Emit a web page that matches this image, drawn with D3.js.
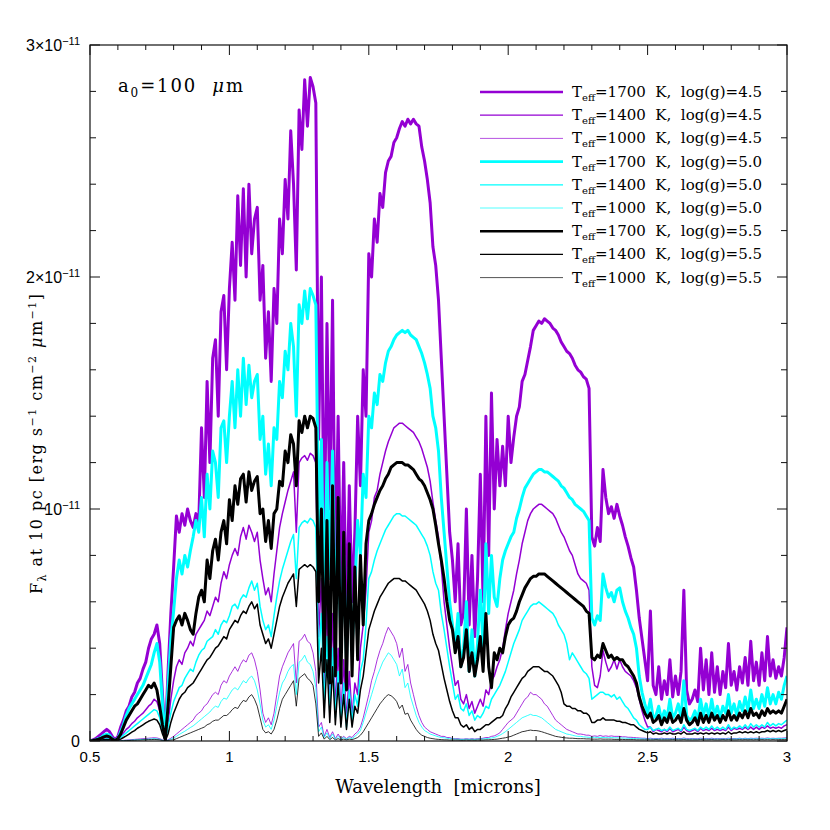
<!DOCTYPE html>
<html>
<head>
<meta charset="utf-8">
<script src="https://cdn.jsdelivr.net/npm/d3@7"></script>
<style>
  body { margin: 0; background: #fff; }
  svg { display: block; }
  text { fill: #000; white-space: pre; }
</style>
</head>
<body>
<svg width="830" height="830"></svg>
<script>
'use strict';

// wavelength grid 0.50 .. 3.00 micron in 0.01 steps
// fluxes in units of 1e-12 erg s-1 cm-2 um-1
const lamStart = 0.5, lamStep = 0.01;

const f1700_45 = [
0.0,0.05,0.1,0.2,0.3,0.4,0.5,0.4,0.2,0.05,
0.2,0.6,0.9,1.3,1.5,1.9,2.1,2.5,2.7,3.1,
3.4,4.0,4.4,4.6,5.0,4.2,2.0,0.1,3.0,5.5,
7.5,9.7,9.0,9.8,9.3,10.0,9.5,9.2,9.8,9.4,
13.5,10.5,15.5,12.0,16.5,17.3,14.0,18.5,19.2,16.0,
19.5,21.5,19.0,23.5,20.5,23.8,20.0,24.0,21.0,22.5,
23.0,19.0,20.5,16.5,18.5,15.5,19.5,18.0,22.5,21.0,
24.2,22.5,26.3,24.0,20.3,27.2,25.5,28.5,26.5,28.6,
28.2,27.5,13.0,20.0,8.0,18.0,10.0,19.0,7.0,14.0,
6.0,12.0,5.0,11.0,6.0,9.0,14.0,11.0,16.0,14.0,
21.0,20.0,22.5,21.5,23.6,23.0,24.5,25.0,25.2,25.8,
26.0,26.4,26.7,26.5,26.8,26.6,26.8,26.6,26.5,25.6,
25.0,24.2,23.2,21.3,20.5,19.0,16.5,14.0,11.5,9.0,
7.8,6.0,8.5,5.0,5.5,10.0,5.0,8.0,4.5,7.0,
11.5,6.0,14.0,8.0,15.0,10.0,13.0,11.0,12.7,11.0,
14.0,12.0,13.1,14.0,14.4,15.5,15.8,16.4,17.0,17.7,
17.9,18.1,18.0,18.2,18.1,18.0,17.8,17.7,17.5,17.2,
17.0,16.8,16.7,16.5,16.2,16.0,15.9,15.7,15.6,15.2,
8.8,8.4,9.2,8.6,11.7,10.5,9.8,10.1,9.6,10.2,
9.7,9.3,8.8,8.4,7.9,7.5,6.5,5.3,4.4,3.5,
2.6,5.6,2.4,2.0,3.2,1.8,2.6,2.0,3.5,1.9,
2.8,2.0,3.0,6.5,2.2,1.6,1.8,2.2,1.7,4.0,
2.2,3.5,2.0,3.8,2.1,3.2,2.0,3.0,2.3,4.2,
2.4,3.0,2.2,3.2,2.5,3.6,2.4,4.3,2.6,3.4,
2.4,3.8,2.6,4.5,2.8,3.5,2.7,3.2,2.8,3.6,
4.9];

const f1400_45 = [
0,0.02,0.04,0.06,0.1,0.12,0.15,0.12,0.06,0.01,
0.08,0.2,0.35,0.5,0.6,0.75,0.85,1.0,1.1,1.2,
1.35,1.5,1.6,1.8,1.7,1.3,0.5,0.02,0.8,1.8,
2.6,3.2,3.5,3.3,3.8,4.0,4.3,4.1,4.6,4.8,
5.0,5.2,5.6,5.4,5.8,6.2,6.0,6.8,7.3,7.0,
7.6,8.0,8.3,8.0,8.8,9.2,8.7,9.3,9.0,8.6,
9.0,7.8,7.0,6.3,6.6,6.0,7.2,8.2,9.2,9.8,
10.3,10.8,11.2,11.6,9.0,12.0,12.2,12.3,12.1,12.4,
12.3,12.0,4.5,7.0,2.0,6.0,1.5,5.5,1.3,4.0,
1.0,3.5,0.8,3.0,1.0,2.5,2.0,4.0,5.0,6.5,
9.0,9.5,10.5,10.8,11.5,12.0,12.5,12.9,13.2,13.5,
13.6,13.7,13.7,13.6,13.5,13.4,13.3,13.1,12.9,12.6,
12.2,11.8,11.2,10.3,9.5,8.8,7.5,6.0,5.0,4.0,
3.2,2.4,2.6,1.8,1.6,2.0,1.4,1.7,1.2,1.5,
1.8,1.5,2.2,2.0,2.6,2.8,3.2,3.5,4.0,4.8,
5.5,6.0,6.5,7.2,7.8,8.5,9.0,9.5,9.8,10.0,
10.1,10.2,10.2,10.1,10.0,9.9,9.8,9.6,9.3,9.0,
8.8,8.5,8.2,8.0,7.6,7.2,7.0,6.9,6.8,6.5,
3.2,2.4,2.3,2.8,3.9,3.4,3.0,3.2,3.5,3.1,
3.5,3.2,3.0,2.9,2.8,2.6,2.3,1.8,1.3,0.9,
0.6,0.6,0.4,0.5,0.45,0.4,0.5,0.4,0.55,0.4,
0.45,0.5,0.4,0.6,0.45,0.4,0.45,0.5,0.4,0.55,
0.45,0.5,0.45,0.55,0.45,0.5,0.45,0.5,0.45,0.6,
0.45,0.55,0.5,0.55,0.5,0.6,0.5,0.6,0.5,0.6,
0.5,0.6,0.55,0.65,0.55,0.6,0.55,0.6,0.55,0.65,
0.7];

const f1000_45 = [
0,0,0,0.01,0.01,0.02,0.02,0.02,0.01,0,
0.01,0.02,0.03,0.04,0.05,0.06,0.07,0.08,0.09,0.1,
0.11,0.12,0.13,0.14,0.13,0.1,0.05,0,0.05,0.12,
0.2,0.3,0.4,0.5,0.6,0.7,0.8,0.9,1.1,1.2,
1.3,1.5,1.6,1.8,2.0,2.1,2.0,2.4,2.6,2.5,
2.8,3.0,3.2,3.0,3.3,3.5,3.4,3.7,3.8,3.5,
3.0,2.2,1.2,0.8,1.0,0.7,1.2,2.0,2.8,3.2,
3.5,3.8,4.0,4.2,2.5,4.3,4.4,4.6,4.3,4.2,
3.8,3.0,0.6,0.8,0.2,0.5,0.15,0.4,0.1,0.3,
0.1,0.2,0.1,0.2,0.15,0.3,0.4,0.6,1.0,1.5,
2.0,2.6,3.0,3.5,3.9,4.2,4.6,4.9,4.7,4.5,
4.2,3.6,4.0,3.0,3.3,2.5,2.0,1.5,1.1,0.8,
0.6,0.5,0.4,0.35,0.3,0.25,0.2,0.2,0.15,0.15,
0.1,0.1,0.1,0.08,0.08,0.1,0.08,0.1,0.08,0.1,
0.1,0.12,0.15,0.15,0.2,0.22,0.28,0.35,0.5,0.65,
0.8,0.9,1.0,1.2,1.4,1.6,1.8,1.9,2.1,2.0,
2.0,1.9,1.8,1.6,1.5,1.3,1.1,0.9,0.8,0.7,
0.6,0.5,0.45,0.4,0.35,0.3,0.3,0.28,0.25,0.25,
0.2,0.22,0.2,0.24,0.2,0.22,0.2,0.22,0.2,0.2,
0.2,0.18,0.18,0.16,0.16,0.15,0.14,0.13,0.12,0.12,
0.1,0.12,0.1,0.11,0.1,0.12,0.1,0.11,0.1,0.12,
0.1,0.11,0.1,0.13,0.1,0.1,0.11,0.1,0.1,0.12,
0.1,0.11,0.1,0.12,0.1,0.11,0.1,0.11,0.1,0.12,
0.1,0.11,0.1,0.12,0.1,0.12,0.1,0.12,0.11,0.12,
0.11,0.12,0.11,0.13,0.11,0.12,0.11,0.12,0.12,0.13,
0.14];

const f1700_50 = [
0.0,0.02,0.05,0.1,0.15,0.25,0.3,0.25,0.1,0.02,
0.1,0.4,0.7,1.1,1.4,1.6,1.8,2.0,2.2,2.4,
2.7,3.0,3.3,3.8,4.2,3.4,1.6,0.1,2.4,4.4,
5.6,7.0,7.8,7.2,8.0,7.5,8.2,8.8,9.5,9.0,
10.5,8.8,11.5,10.0,12.5,12.0,10.5,13.5,13.8,12.0,
14.0,15.5,13.5,16.0,14.0,16.5,14.5,16.2,14.8,15.5,
15.8,13.0,14.0,11.5,12.8,11.0,13.5,13.0,15.5,14.8,
16.8,16.0,18.0,17.0,14.0,18.8,18.0,19.4,18.2,19.5,
19.2,18.8,9.0,13.0,5.5,12.0,7.0,12.5,5.0,9.5,
4.0,8.0,3.5,7.5,4.0,6.5,9.5,8.0,11.5,10.5,
14.0,13.5,15.0,14.5,15.8,15.5,16.3,16.8,17.0,17.3,
17.5,17.6,17.7,17.6,17.7,17.5,17.4,17.3,17.0,16.7,
16.3,15.8,15.2,14.0,13.5,12.5,10.5,9.0,7.5,6.0,
5.0,4.0,5.5,3.2,4.0,6.0,3.0,4.8,2.8,4.2,
6.5,4.0,8.5,5.5,8.0,6.2,5.8,7.0,7.8,8.2,
8.5,8.8,9.0,9.6,10.0,10.5,10.9,11.1,11.3,11.5,
11.6,11.7,11.7,11.6,11.6,11.5,11.4,11.3,11.2,11.0,
10.9,10.7,10.5,10.4,10.2,10.1,10.0,9.9,9.7,9.5,
5.3,5.0,5.4,5.2,7.2,6.6,6.2,6.4,6.0,6.5,
6.6,6.0,5.6,5.3,4.9,4.6,4.0,2.8,2.1,1.6,
1.2,1.8,1.0,1.1,1.5,0.9,1.3,1.0,1.8,1.0,
1.2,1.6,1.0,2.6,1.1,0.9,1.0,1.3,0.9,1.8,
1.1,1.6,1.0,1.8,1.1,1.5,1.0,1.5,1.2,2.0,
1.2,1.6,1.1,1.7,1.3,1.9,1.3,2.2,1.4,1.8,
1.4,2.0,1.5,2.3,1.6,2.0,1.6,2.1,1.8,2.4,
2.8];

const f1400_50 = [
0,0.01,0.02,0.04,0.06,0.08,0.1,0.08,0.04,0.01,
0.05,0.15,0.25,0.35,0.45,0.55,0.65,0.75,0.85,0.95,
1.05,1.15,1.25,1.35,1.3,1.0,0.4,0.02,0.6,1.2,
1.7,2.0,2.3,2.4,2.7,2.9,3.1,3.0,3.4,3.7,
3.9,4.0,4.3,4.4,4.5,4.8,4.6,5.0,5.2,5.1,
5.4,5.8,5.9,5.7,6.1,6.3,6.2,6.6,6.9,6.5,
6.8,5.8,5.2,4.8,5.0,4.5,5.4,6.2,6.9,7.4,
7.8,8.2,8.6,8.9,7.0,9.2,9.4,9.5,9.4,9.6,
9.5,9.2,3.5,5.5,1.5,4.5,1.2,4.0,1.0,3.0,
0.8,2.5,0.6,2.2,0.8,2.0,1.5,3.0,3.5,5.0,
7.0,7.3,7.8,8.2,8.5,8.8,9.1,9.3,9.5,9.7,
9.8,9.8,9.7,9.7,9.6,9.5,9.4,9.3,9.1,8.9,
8.7,8.4,8.0,7.3,6.8,6.5,5.5,4.8,4.0,3.2,
2.5,1.8,2.0,1.4,1.3,1.6,1.1,1.3,0.9,1.1,
1.0,1.2,1.5,1.4,1.8,2.0,2.2,2.4,2.7,3.0,
3.4,3.8,4.2,4.5,4.8,5.2,5.4,5.6,5.8,5.9,
5.9,6.0,5.9,5.8,5.7,5.6,5.5,5.3,5.0,4.8,
4.6,4.2,3.5,3.8,3.6,3.4,3.2,3.0,2.9,2.7,
1.8,1.9,2.0,2.1,2.1,2.0,2.0,1.9,2.0,1.8,
1.9,1.7,1.5,1.4,1.2,1.0,0.9,0.7,0.6,0.5,
0.5,0.6,0.45,0.5,0.55,0.45,0.5,0.45,0.6,0.45,
0.5,0.55,0.45,0.7,0.5,0.45,0.5,0.55,0.45,0.6,
0.5,0.6,0.5,0.65,0.5,0.6,0.5,0.6,0.5,0.7,
0.5,0.6,0.55,0.65,0.55,0.7,0.55,0.75,0.6,0.7,
0.6,0.7,0.6,0.8,0.65,0.75,0.65,0.75,0.7,0.8,
0.9];

const f1000_50 = [
0,0,0,0,0.01,0.01,0.01,0.01,0,0,
0.01,0.01,0.02,0.03,0.03,0.04,0.05,0.05,0.06,0.07,
0.07,0.08,0.09,0.1,0.09,0.07,0.03,0,0.03,0.08,
0.12,0.2,0.28,0.35,0.42,0.5,0.58,0.65,0.75,0.85,
0.95,1.05,1.15,1.25,1.4,1.5,1.45,1.7,1.85,1.8,
2.0,2.2,2.3,2.2,2.4,2.6,2.5,2.7,2.8,2.6,
2.2,1.6,0.9,0.6,0.7,0.5,0.9,1.5,2.1,2.5,
2.7,3.0,3.2,3.3,2.0,3.4,3.5,3.7,3.4,3.3,
3.0,2.3,0.4,0.6,0.15,0.35,0.1,0.3,0.08,0.2,
0.08,0.15,0.08,0.15,0.1,0.2,0.3,0.45,0.8,1.2,
1.6,2.0,2.4,2.8,3.1,3.4,3.6,3.8,3.7,3.5,
3.3,2.8,3.1,2.3,2.5,1.9,1.5,1.1,0.8,0.6,
0.45,0.38,0.3,0.26,0.22,0.18,0.15,0.14,0.12,0.1,
0.09,0.08,0.08,0.07,0.07,0.08,0.07,0.08,0.07,0.08,
0.08,0.09,0.1,0.11,0.13,0.15,0.2,0.25,0.32,0.4,
0.5,0.6,0.7,0.8,0.9,1.0,1.05,1.1,1.15,1.1,
1.1,1.05,1.0,0.9,0.8,0.7,0.6,0.5,0.45,0.4,
0.35,0.3,0.28,0.25,0.22,0.2,0.2,0.18,0.17,0.16,
0.15,0.16,0.15,0.16,0.15,0.15,0.14,0.15,0.14,0.14,
0.13,0.13,0.12,0.12,0.11,0.11,0.1,0.1,0.09,0.09,
0.08,0.09,0.08,0.09,0.08,0.09,0.08,0.09,0.08,0.09,
0.08,0.09,0.08,0.1,0.08,0.08,0.09,0.08,0.08,0.09,
0.08,0.09,0.08,0.09,0.08,0.09,0.08,0.09,0.08,0.1,
0.08,0.09,0.09,0.1,0.09,0.1,0.09,0.1,0.09,0.1,
0.09,0.1,0.09,0.11,0.1,0.1,0.1,0.11,0.1,0.11,
0.12];

const f1700_55 = [
0.0,0.02,0.05,0.08,0.12,0.18,0.22,0.18,0.08,0.02,
0.1,0.3,0.6,0.9,1.1,1.3,1.5,1.6,1.8,2.0,
2.2,2.4,2.3,2.5,2.2,1.5,0.7,0.05,1.5,3.2,
4.9,5.2,5.4,5.0,5.5,5.2,4.8,4.6,5.5,6.2,
6.5,6.0,7.8,7.0,8.2,8.7,7.8,9.0,9.5,8.5,
10.4,9.5,11.0,10.2,11.3,11.5,10.3,11.6,10.8,11.2,
11.4,9.8,10.0,8.6,9.5,8.3,9.8,10.0,11.2,11.0,
12.5,12.0,13.2,12.8,11.0,13.8,13.3,14.0,13.5,14.0,
13.9,13.5,6.0,10.0,3.0,9.5,2.5,11.0,2.8,10.5,
2.5,9.0,2.2,8.5,2.8,7.5,3.5,8.0,5.0,8.5,
9.5,9.8,10.2,10.5,10.8,11.0,11.3,11.5,11.8,11.9,
12.0,12.0,12.0,11.9,11.9,11.8,11.7,11.5,11.3,11.2,
11.0,10.7,10.4,10.0,9.3,8.5,7.8,7.0,6.0,5.2,
4.8,3.8,4.5,3.2,3.6,4.8,3.0,3.8,2.8,3.5,
4.5,3.0,5.5,3.2,2.3,3.8,3.5,4.0,3.8,4.5,
5.0,5.2,5.3,5.6,6.0,6.3,6.6,6.8,7.0,7.1,
7.1,7.2,7.2,7.2,7.1,7.0,6.9,6.8,6.7,6.6,
6.5,6.4,6.3,6.2,6.1,6.0,5.9,5.8,5.6,5.5,
3.6,3.5,3.7,3.6,4.2,3.9,3.6,3.7,3.5,3.6,
3.5,3.5,3.3,3.2,3.0,2.8,2.5,1.9,1.5,1.2,
1.0,1.2,0.8,0.9,1.1,0.7,1.0,0.8,1.2,0.8,
0.9,1.1,0.8,1.4,0.9,0.7,0.8,1.0,0.7,1.2,
0.8,1.1,0.8,1.2,0.9,1.1,0.8,1.1,0.9,1.3,
0.9,1.1,0.9,1.2,1.0,1.3,1.0,1.4,1.1,1.2,
1.0,1.3,1.1,1.4,1.2,1.3,1.2,1.3,1.2,1.5,
1.8];

const f1400_55 = [
0,0.01,0.02,0.03,0.04,0.05,0.06,0.05,0.03,0.01,
0.03,0.08,0.15,0.22,0.3,0.38,0.45,0.55,0.62,0.7,
0.78,0.85,0.9,0.95,0.9,0.7,0.3,0.01,0.3,0.8,
1.2,1.5,1.8,2.0,2.1,2.3,2.4,2.5,2.7,2.9,
3.1,3.3,3.5,3.6,3.8,4.0,4.1,4.3,4.5,4.4,
4.8,5.0,5.2,5.1,5.4,5.6,5.5,5.8,6.0,5.7,
5.9,5.0,4.6,4.2,4.4,4.0,4.6,5.2,5.8,6.2,
6.5,6.8,7.0,7.2,5.8,7.4,7.5,7.6,7.5,7.6,
7.5,7.3,2.5,4.0,1.0,3.5,0.8,3.2,0.7,2.5,
0.6,2.0,0.5,1.8,0.6,1.5,1.2,2.2,2.8,3.8,
4.8,5.2,5.6,5.9,6.2,6.4,6.6,6.8,6.9,7.0,
7.0,7.0,6.9,6.9,6.8,6.7,6.6,6.5,6.3,6.1,
5.9,5.6,5.2,4.6,4.2,3.9,3.3,2.7,2.2,1.7,
1.3,1.0,1.0,0.7,0.6,0.7,0.5,0.6,0.4,0.5,
0.5,0.6,0.7,0.7,0.8,0.9,1.0,1.0,1.1,1.4,
1.6,1.9,2.1,2.3,2.5,2.7,2.8,3.0,3.1,3.2,
3.2,3.2,3.1,3.0,3.0,2.9,2.8,2.6,2.4,2.1,
1.6,1.5,1.5,1.4,1.4,1.3,1.3,1.2,1.2,1.1,
0.8,0.8,0.9,0.9,1.0,0.9,0.9,0.9,0.9,0.85,
0.85,0.8,0.8,0.75,0.7,0.7,0.6,0.5,0.45,0.4,
0.35,0.4,0.3,0.35,0.3,0.3,0.35,0.3,0.35,0.3,
0.3,0.35,0.3,0.4,0.3,0.3,0.3,0.35,0.3,0.35,
0.3,0.35,0.3,0.35,0.3,0.35,0.3,0.35,0.3,0.4,
0.3,0.35,0.35,0.4,0.35,0.4,0.35,0.4,0.35,0.4,
0.35,0.4,0.4,0.45,0.4,0.45,0.4,0.45,0.4,0.45,
0.5];

const f1000_55 = [
0,0,0,0,0,0.01,0.01,0.01,0,0,
0,0.01,0.01,0.02,0.02,0.03,0.03,0.04,0.04,0.05,
0.05,0.06,0.06,0.07,0.06,0.05,0.02,0,0.02,0.04,
0.05,0.1,0.15,0.2,0.25,0.3,0.35,0.4,0.45,0.5,
0.55,0.6,0.7,0.75,0.85,0.9,0.9,1.0,1.1,1.1,
1.2,1.35,1.45,1.4,1.6,1.75,1.7,1.9,2.0,1.8,
1.5,1.0,0.5,0.35,0.4,0.3,0.5,0.9,1.4,1.8,
2.0,2.2,2.4,2.6,1.5,2.7,2.8,2.9,2.7,2.6,
2.4,1.6,0.2,0.35,0.08,0.2,0.06,0.15,0.05,0.1,
0.05,0.08,0.05,0.08,0.06,0.1,0.15,0.25,0.4,0.6,
0.8,1.0,1.2,1.4,1.6,1.75,1.9,2.0,1.95,1.85,
1.7,1.4,1.55,1.15,1.2,0.9,0.7,0.5,0.35,0.25,
0.2,0.15,0.12,0.1,0.08,0.07,0.06,0.05,0.05,0.04,
0.04,0.04,0.04,0.03,0.03,0.04,0.03,0.04,0.03,0.04,
0.04,0.04,0.05,0.05,0.06,0.07,0.08,0.1,0.12,0.14,
0.17,0.2,0.25,0.3,0.35,0.4,0.42,0.45,0.47,0.45,
0.45,0.43,0.4,0.36,0.32,0.28,0.24,0.2,0.18,0.16,
0.14,0.13,0.12,0.12,0.11,0.1,0.1,0.1,0.09,0.09,
0.08,0.08,0.08,0.09,0.08,0.08,0.08,0.08,0.07,0.07,
0.07,0.07,0.06,0.06,0.06,0.06,0.05,0.05,0.05,0.05,
0.05,0.05,0.05,0.06,0.05,0.05,0.05,0.05,0.05,0.06,
0.05,0.05,0.05,0.06,0.05,0.05,0.05,0.05,0.05,0.06,
0.05,0.05,0.05,0.06,0.05,0.05,0.05,0.06,0.05,0.06,
0.05,0.05,0.05,0.06,0.05,0.06,0.05,0.06,0.05,0.06,
0.05,0.06,0.05,0.06,0.05,0.06,0.05,0.06,0.06,0.06,
0.06];

// legend order = draw order
const seriesFlux  = [f1700_45, f1400_45, f1000_45, f1700_50, f1400_50, f1000_50, f1700_55, f1400_55, f1000_55];
const seriesTeff  = ["1700", "1400", "1000", "1700", "1400", "1000", "1700", "1400", "1000"];
const seriesLogg  = ["4.5", "4.5", "4.5", "5.0", "5.0", "5.0", "5.5", "5.5", "5.5"];
const seriesColor = ["#9400d3", "#9400d3", "#9400d3", "#00ffff", "#00ffff", "#00ffff", "#000000", "#000000", "#000000"];
const seriesWidth = [3, 1.5, 0.8, 3, 1.5, 0.8, 3, 1.5, 0.8];

const xTickVals   = [0.5, 1, 1.5, 2, 2.5, 3];
const xTickLabels = ["0.5", "1", "1.5", "2", "2.5", "3"];
const yTickVals   = [0, 10, 20, 30];
const yTickLabels = [["0", ""], ["10", "\u221211"], ["2\u00d710", "\u221211"], ["3\u00d710", "\u221211"]];

const svg = d3.select("svg");
const margin = {left: 90, right: 43, top: 45, bottom: 89};
const width = 830 - margin.left - margin.right;   // 697
const height = 830 - margin.top - margin.bottom;  // 696

const x = d3.scaleLinear().domain([0.5, 3]).range([margin.left, margin.left + width]);
const y = d3.scaleLinear().domain([0, 30]).range([margin.top + height, margin.top]);

const serif = "'DejaVu Serif', 'Liberation Serif', serif";
const sans = "'Liberation Sans', 'DejaVu Sans', sans-serif";

// helper: text made of pieces with sub/superscripts  [text, shift, size, italic]
function richText(sel, parts, baseSize) {
  let cur = 0;
  parts.forEach(function(p) {
    const shift = p[1] || 0;
    const t = sel.append("tspan")
      .attr("dy", shift - cur)
      .attr("font-size", p[2] || baseSize)
      .text(p[0]);
    if (p[3]) t.attr("font-style", "italic");
    cur = shift;
  });
}

svg.append("defs").append("clipPath")
    .attr("id", "clip")
  .append("rect")
    .attr("x", margin.left)
    .attr("y", margin.top)
    .attr("width", width)
    .attr("height", height);

// spectra
const line = d3.line()
    .x(function(d, i) { return x(lamStart + i * lamStep); })
    .y(function(d) { return y(d); });

const plot = svg.append("g").attr("clip-path", "url(#clip)");
seriesFlux.forEach(function(s, k) {
  plot.append("path")
      .datum(s)
      .attr("fill", "none")
      .attr("stroke", seriesColor[k])
      .attr("stroke-width", seriesWidth[k])
      .attr("stroke-linejoin", "round")
      .attr("d", line);
});

// frame + ticks (all four sides, ticks inward)
const axes = svg.append("g").attr("stroke", "#111").attr("fill", "none");
axes.append("rect")
    .attr("x", margin.left)
    .attr("y", margin.top)
    .attr("width", width)
    .attr("height", height)
    .attr("stroke-width", 1.2);

const xMinor = d3.range(5, 31).map(function(d) { return d / 10; });
xMinor.forEach(function(v) {
  const major = Math.abs(v * 2 - Math.round(v * 2)) < 1e-6;
  const len = major ? 10 : 5;
  axes.append("line").attr("x1", x(v)).attr("x2", x(v))
      .attr("y1", y(0)).attr("y2", y(0) - len);
  axes.append("line").attr("x1", x(v)).attr("x2", x(v))
      .attr("y1", y(30)).attr("y2", y(30) + len);
});

const yMinor = d3.range(0, 31, 2);
yMinor.forEach(function(v) {
  const len = (v % 10 === 0) ? 10 : 6;
  axes.append("line").attr("y1", y(v)).attr("y2", y(v))
      .attr("x1", x(0.5)).attr("x2", x(0.5) + len);
  axes.append("line").attr("y1", y(v)).attr("y2", y(v))
      .attr("x1", x(3)).attr("x2", x(3) - len);
});

// tick labels
svg.append("g").selectAll("text")
    .data(xTickVals)
  .join("text")
    .attr("x", function(d) { return x(d); })
    .attr("y", y(0) + 21)
    .attr("text-anchor", "middle")
    .attr("font-family", sans)
    .attr("font-size", 15)
    .text(function(d, i) { return xTickLabels[i]; });

yTickVals.forEach(function(v, i) {
  const t = svg.append("text")
      .attr("x", margin.left - 10)
      .attr("y", y(v) + 5.5)
      .attr("text-anchor", "end")
      .attr("font-family", sans)
      .attr("font-size", 16);
  const parts = [[yTickLabels[i][0], 0]];
  if (yTickLabels[i][1]) parts.push([yTickLabels[i][1], -6, 11]);
  richText(t, parts, 16);
});

// axis titles
const xt = svg.append("text")
    .attr("x", 438)
    .attr("y", 793)
    .attr("text-anchor", "middle")
    .attr("font-family", serif)
    .attr("font-size", 18);
richText(xt, [["Wavelength  [microns]", 0]], 18);

const yt = svg.append("text")
    .attr("transform", "translate(42,444) rotate(-90)")
    .attr("text-anchor", "middle")
    .attr("font-family", serif)
    .attr("font-size", 16)
    .attr("textLength", 300)
    .attr("lengthAdjust", "spacing");
richText(yt, [
  ["F", 0], ["\u03bb", 4, 11], [" at 10 pc [erg s", 0], ["\u22121", -6, 11],
  [" cm", 0], ["\u22122", -6, 11], [" ", 0], ["\u03bc", 0, 16, true], ["m", 0], ["\u22121", -6, 11], ["]", 0]
], 16);

// grain size note
const an = svg.append("text")
    .attr("x", 118)
    .attr("y", 92)
    .attr("font-family", serif)
    .attr("font-size", 18)
    .attr("textLength", 125)
    .attr("lengthAdjust", "spacing");
richText(an, [["a", 0], ["0", 5, 12], ["=100  ", 0], ["\u03bc", 0, 18, true], ["m", 0]], 18);

// legend
const leg = svg.append("g");
seriesFlux.forEach(function(s, k) {
  const ly = 92 + k * 23.2;
  leg.append("line")
      .attr("x1", 480).attr("x2", 563)
      .attr("y1", ly).attr("y2", ly)
      .attr("stroke", seriesColor[k])
      .attr("stroke-width", seriesWidth[k] * 0.85);
  const t = leg.append("text")
      .attr("x", 572)
      .attr("y", ly + 5)
      .attr("font-family", serif)
      .attr("font-size", 15);
  richText(t, [["T", 0], ["eff", 4, 10], ["=" + seriesTeff[k] + "  K,  log(g)=" + seriesLogg[k], 0]], 15);
});
</script>
</body>
</html>
